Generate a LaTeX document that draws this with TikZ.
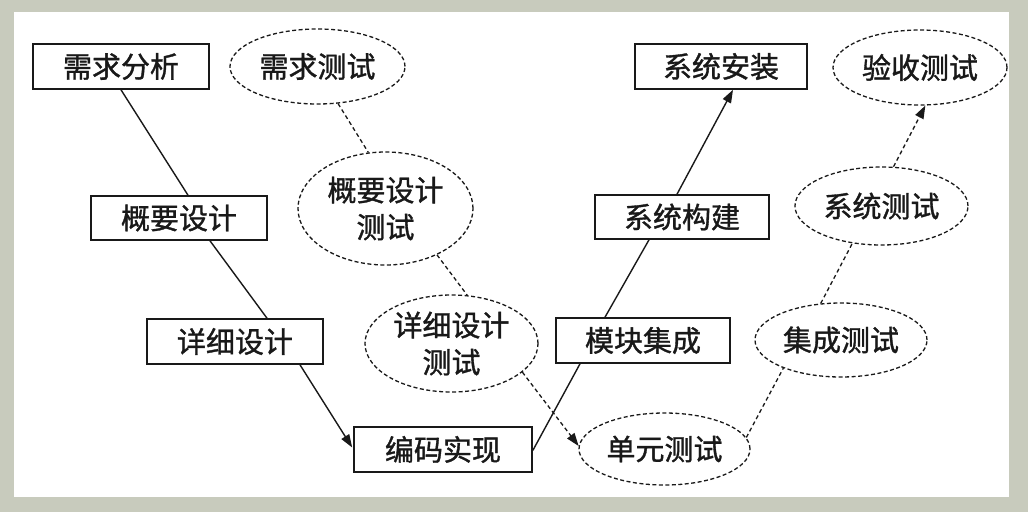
\documentclass[tikz,border=0pt]{standalone}
\usepackage{fontspec}
\newfontfamily\cjk[FakeBold=1.2]{Noto Sans CJK SC}
\usetikzlibrary{shapes.geometric,arrows.meta,calc}
\definecolor{framegray}{RGB}{200,203,189}
\definecolor{ink}{RGB}{25,25,25}
\tikzset{
  lbl/.style={font=\cjk\fontsize{29}{37}\selectfont, text=ink, align=center, inner sep=0pt},
  stagebox/.style={lbl, draw=ink, line width=1.6pt, rectangle, minimum height=45pt},
  testoval/.style={lbl, draw=ink, line width=1.3pt, ellipse, dash pattern=on 4pt off 2.5pt},
  solidcon/.style={draw=ink, line width=1.4pt},
  dashcon/.style={draw=ink, line width=1.3pt, dash pattern=on 4pt off 3pt},
  tip/.style={-{Triangle[length=13pt,width=9pt]}}
}
\begin{document}
\begin{tikzpicture}[x=1pt,y=-1pt]
\useasboundingbox (0,0) rectangle (1028,512);
\fill[framegray] (0,0) rectangle (1028,512);
\fill[white] (14,12) rectangle (1009,497);

% development stages
\node[stagebox, minimum width=176pt] (xq) at (121,66.5) {需求分析};
\node[stagebox, minimum width=176pt, minimum height=44pt] (gy) at (179,218) {概要设计};
\node[stagebox, minimum width=176pt] (xx) at (235,341.5) {详细设计};
\node[stagebox, minimum width=178pt] (bm) at (443,449.5) {编码实现};
\node[stagebox, minimum width=174pt] (mk) at (643,340.5) {模块集成};
\node[stagebox, minimum width=174pt, minimum height=44pt] (xg) at (682,217) {系统构建};
\node[stagebox, minimum width=172pt] (xa) at (721,66.5) {系统安装};

% tests
\node[testoval, minimum width=175pt, minimum height=75pt] (t1) at (317.5,66.5) {需求测试};
\node[testoval, minimum width=175pt, minimum height=113pt] (t2) at (385.5,208.5) {概要设计\\测试};
\node[testoval, minimum width=173pt, minimum height=97pt] (t3) at (451.5,343.5) {详细设计\\测试};
\node[testoval, minimum width=171pt, minimum height=72pt] (t4) at (664.5,449) {单元测试};
\node[testoval, minimum width=172pt, minimum height=74pt] (t5) at (841,340) {集成测试};
\node[testoval, minimum width=173pt, minimum height=78pt] (t6) at (881.5,206) {系统测试};
\node[testoval, minimum width=174pt, minimum height=75pt] (t7) at (920,67.5) {验收测试};

% solid V
\draw[solidcon] (xq.south) -- ($(gy.north)+(9,0)$);
\draw[solidcon] ($(gy.south)+(31,0)$) -- ($(xx.north)+(32,0)$);
\draw[solidcon, tip] ($(xx.south)+(65,0)$) -- ($(bm.west)+(-1,-2)$);
\draw[solidcon] ($(bm.east)+(0,1)$) -- ($(mk.south)+(-63,0)$);
\draw[solidcon] ($(mk.north)+(-38,0)$) -- ($(xg.south)+(-33,0)$);
\draw[solidcon, tip] ($(xg.north)+(-5,0)$) -- ($(xa.south)+(12,0)$);

% dashed V
\draw[dashcon] (t1.-61.6) -- (t2.107.8);
\draw[dashcon] (t2.-42) -- (t3.72);
\draw[dashcon, tip] (t3.-22.6) -- (t4.178);
\draw[dashcon] (t4.8.2) -- (t5.-154.3);
\draw[dashcon] (t5.119.6) -- (t6.-128.5);
\draw[dashcon, tip] (t6.73) -- (t7.-82.5);
\end{tikzpicture}
\end{document}
